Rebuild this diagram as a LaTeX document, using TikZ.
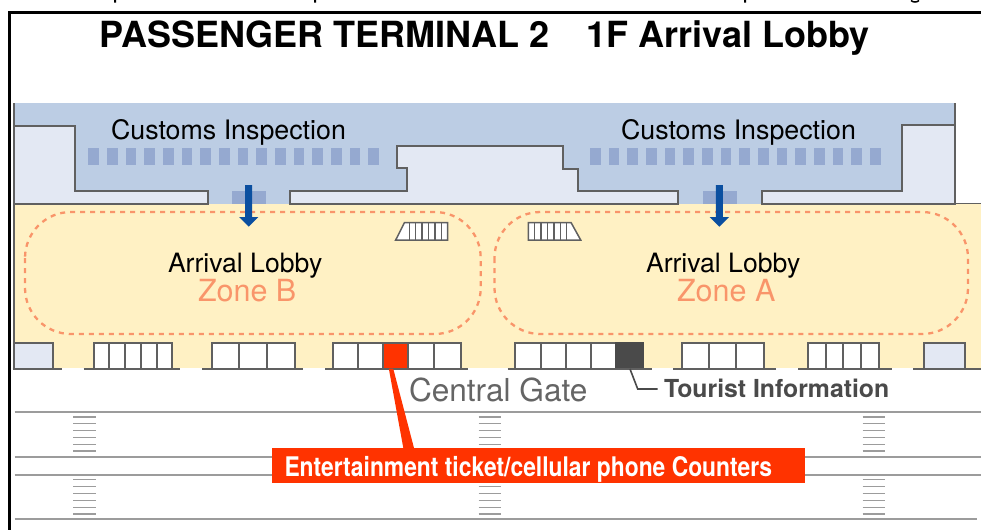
\documentclass[tikz,border=0pt]{standalone}
\usepackage{fontspec}
\setmainfont{TeX Gyre Heros}
\definecolor{custblue}{HTML}{BCCDE4}
\definecolor{lightroom}{HTML}{E3E8F3}
\definecolor{lobby}{HTML}{FFF1C4}
\definecolor{zoneor}{HTML}{F9956A}
\definecolor{booth}{HTML}{95A9D0}
\definecolor{wallc}{HTML}{606060}
\definecolor{roadc}{HTML}{9C9C9C}
\definecolor{redc}{HTML}{FF3300}
\definecolor{arrowc}{HTML}{0B4FA0}
\definecolor{darkc}{HTML}{4A4A4A}
\newcommand{\fs}[1]{\fontsize{#1}{#1}\selectfont}
\tikzset{
  x=1pt,y=-1pt,
  wall/.style={draw=wallc,line width=2pt,line join=miter},
  room/.style={wall,fill=lightroom},
  cellbox/.style={draw=wallc,line width=2pt,fill=white},
  floorline/.style={draw=wallc,line width=2pt},
  road/.style={draw=roadc,line width=1.6pt},
  tick/.style={draw=roadc,line width=1.6pt},
  zoneline/.style={draw=zoneor,line width=2.3pt,dash pattern=on 5pt off 5pt,rounded corners=46pt},
  boothsq/.style={fill=booth,draw=none},
  lbl/.style={anchor=base west,inner sep=0pt,outer sep=0pt},
  esc/.style={draw=wallc,line width=1.5pt,fill=white},
}
\begin{document}
\begin{tikzpicture}
\useasboundingbox (0,0) rectangle (981,530);
\fill[white] (0,0) rectangle (981,530);
% clipped tails of the line above
\fill[black] (114,0) rectangle (116,2.5) (314,0) rectangle (316,2.5) (744,0) rectangle (746,2.5);
\draw[black,line width=1.5pt] (911,0.5) .. controls (913,2.5) and (917,2.5) .. (919,0.5);
% areas
\fill[custblue] (13,103) rectangle (955,204);
\fill[lobby] (13,204) rectangle (981,367.5);
% rooms
\path[room] (13.5,125.5) -- (75,125.5) -- (75,191) -- (207.5,191) -- (207.5,203.5) -- (13.5,203.5) -- cycle;
\path[room] (290,203.5) -- (290,191) -- (407,191) -- (407,168) -- (396.5,168) -- (396.5,145.5) -- (562.7,145.5) -- (562.7,169) -- (577.7,169) -- (577.7,191) -- (677.7,191) -- (677.7,203.5) -- cycle;
\path[room] (762.3,203.5) -- (762.3,191) -- (901.7,191) -- (901.7,125) -- (955,125) -- (955,203.5) -- cycle;
\draw[wall] (13.5,103) -- (13.5,343);
\draw[wall] (955,103) -- (955,125);
\draw[wall,line width=1.4pt] (955,203.5) -- (981,203.5);
% customs booths
\foreach \i in {0,...,15} {
  \fill[boothsq] ({88.3+18.67*\i},148.3) rectangle ++(10.7,16.7);
  \fill[boothsq] ({590+18.67*\i},148.3) rectangle ++(10.7,16.7);
}
\fill[boothsq] (232,190.7) rectangle (266,204);
\fill[boothsq] (703.3,190.7) rectangle (737.3,204);
% zones
\draw[zoneline] (25,212) rectangle (480.7,334);
\draw[zoneline] (494.5,212) rectangle (968,334);
% arrows
\foreach \ax in {248.7,719.3} {
  \fill[arrowc] ({\ax-3.5},185) -- ({\ax+3.5},185) -- ({\ax+3.5},217) -- ({\ax+9.7},217) -- (\ax,226.7) -- ({\ax-9.7},217) -- ({\ax-3.5},217) -- cycle;
}
% escalators
\path[esc] (404.5,222.5) -- (447.7,222.5) -- (447.7,240) -- (395.7,240) -- cycle;
\foreach \i in {1,...,6} \draw[wallc,line width=1.4pt] ({447.7-6.4*\i},222.5) -- ({447.7-6.4*\i},240);
\path[esc] (528.3,222.5) -- (571,222.5) -- (580.7,240) -- (528.3,240) -- cycle;
\foreach \i in {1,...,6} \draw[wallc,line width=1.4pt] ({528.3+6.4*\i},222.5) -- ({528.3+6.4*\i},240);
% counters
\path[cellbox,fill=lightroom] (13.5,343) rectangle (53.3,368.5);
\path[cellbox,fill=lightroom] (924.3,343) rectangle (965,368.5);
\foreach \a/\b in {94/109.3,109.3/125.3,125.3/141,141/156.7,156.7/172.3,
  212.3/238.7,238.7/266.7,266.7/295.3,
  333.3/357.7,357.7/382.7,407.7/434.3,434.3/461,
  515/540.7,540.7/565.7,565.7/590.7,590.7/616,
  682.3/709.3,709.3/736,736/764.3,
  808.3/826,826/843.3,843.3/860.7,860.7/879}
  \path[cellbox] (\a,343) rectangle (\b,368.5);
\path[cellbox,fill=redc] (382.7,343) rectangle (407.7,368.5);
\path[cellbox,fill=darkc,draw=darkc] (616,343) rectangle (643.3,368.5);
\foreach \a/\b in {12.5/62,83.7/180.3,202/303.3,325/467.7,507.7/651.7,673.3/776,798.3/891.7,913.3/981}
  \draw[floorline] (\a,368.7) -- (\b,368.7);
% roads
\draw[road] (14.5,411.7) -- (981,411.7);
\draw[road] (14.5,456.7) -- (981,456.7);
\draw[road] (14.5,474.7) -- (981,474.7);
\draw[road] (14.5,519) -- (977,519);
\foreach \tx in {73.3,478.7,862.5}
  \foreach \ty in {416.7,423.6,430.6,437.6,444.4,451,479.4,486.6,493.6,500.4,507.3,514}
    \draw[tick] (\tx,\ty) -- ({\tx+22.7},\ty);
% frame
\draw[black,line width=3pt] (981,12.5) -- (9.7,12.5) -- (9.7,530);
% red callout
\coordinate (redtop) at (391,368.5);
\node[fill=redc,inner sep=0pt,minimum width=533.3pt,minimum height=34.6pt,anchor=north west] (redlabel) at (271.7,447.7) {};
\fill[redc] (388.8,368.5) -- (393.2,368.5) -- (414,448) -- (403.3,448) -- cycle;
\node[lbl,text=white,xscale=0.846] (redtext) at (284.5,476) {\fs{27}\bfseries Entertainment ticket/cellular phone Counters};
% tourist information
\node[lbl,text=darkc] (tourist) at (664,397.2) {\fs{24.8}\bfseries Tourist Information};
\coordinate (touristcell) at (630,369);
\coordinate (touristbend) at (637.7,389);
\coordinate (touristend) at (657.7,389);
\draw[darkc,line width=1.6pt] (touristcell) -- (touristbend) -- (touristend);
% texts
\node[lbl,text=black] (title) at (99.3,47.5) {\fs{36}\bfseries PASSENGER TERMINAL 2\hspace{37.5pt}1F Arrival Lobby};
\node[lbl,text=black] (customsb) at (111,139.5) {\fs{26.8}Customs Inspection};
\node[lbl,text=black] (customsa) at (621,139.5) {\fs{26.8}Customs Inspection};
\node[lbl,text=black] (arrivalb) at (168,272) {\fs{26.6}Arrival Lobby};
\node[lbl,text=black] (arrivala) at (646,272) {\fs{26.6}Arrival Lobby};
\node[lbl,text=zoneor] (zoneb) at (198,301) {\fs{30.5}Zone B};
\node[lbl,text=zoneor] (zonea) at (677,301) {\fs{30.5}Zone A};
\node[lbl,text=darkc!85!white] (gate) at (409,401) {\fs{31.6}Central Gate};
\end{tikzpicture}
\end{document}
